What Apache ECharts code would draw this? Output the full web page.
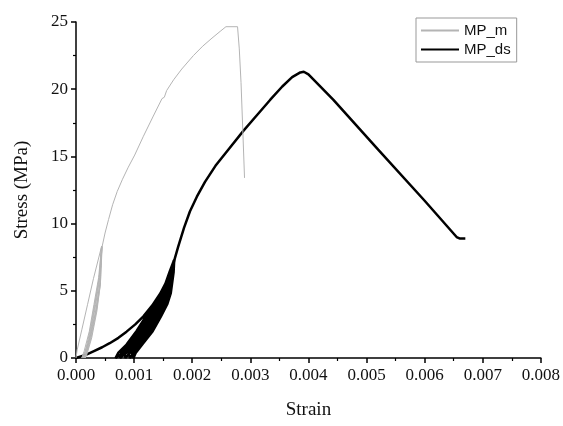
<!DOCTYPE html>
<html>
<head>
<meta charset="utf-8">
<script src="https://cdn.jsdelivr.net/npm/echarts@6/dist/echarts.min.js"></script>
<style>
  html, body { margin: 0; padding: 0; background: #fff; }
  #chart { width: 563px; height: 426px; }
</style>
</head>
<body>
<div id="chart"></div>
<script>
// tick labels
var strainTicks = ['0.000', '0.001', '0.002', '0.003', '0.004', '0.005', '0.006', '0.007', '0.008'];
var stressTicks = ['0', '5', '10', '15', '20', '25'];

// MP_m : [strain, stress]
var mpmFirstLoad = [[0, 0], [0.00002, 0.6], [0.00010, 2.1], [0.00020, 4.0], [0.00030, 5.9], [0.00044, 8.3]];
var mpmLoops = [
  [0.00041, 5.5], [0.00034, 3.5], [0.00024, 1.5], [0.00014, 0.3], [0.00010, 0],
  [0.00014, 0.5], [0.00023, 2], [0.00031, 4], [0.00039, 6], [0.00044, 8.3],
  [0.00041, 5.5], [0.00034, 3.5], [0.00025, 1.5], [0.00016, 0.3], [0.00012, 0],
  [0.00016, 0.5], [0.00024, 2], [0.00032, 4], [0.00040, 6], [0.00044, 8.3],
  [0.00042, 5.5], [0.00035, 3.5], [0.00026, 1.5], [0.00018, 0.3], [0.00014, 0],
  [0.00018, 0.5], [0.00025, 2], [0.00033, 4], [0.00040, 6], [0.00045, 8.3],
  [0.00042, 5.5], [0.00036, 3.5], [0.00027, 1.5], [0.00019, 0.3], [0.00016, 0],
  [0.00019, 0.5], [0.00026, 2], [0.00034, 4], [0.00041, 6], [0.00045, 8.3]
];
var mpmEnvelope = [
  [0.00050, 9.3], [0.00056, 10.3], [0.00063, 11.4], [0.00071, 12.4], [0.00080, 13.3],
  [0.00090, 14.2], [0.00101, 15.1], [0.00116, 16.5], [0.00133, 18.0], [0.00148, 19.3],
  [0.00152, 19.4], [0.00156, 19.9], [0.00168, 20.7], [0.00182, 21.5], [0.00202, 22.5],
  [0.00218, 23.2], [0.00234, 23.8], [0.00248, 24.3], [0.00258, 24.65], [0.00278, 24.65],
  [0.00281, 23.0], [0.00284, 20.5], [0.00287, 17.0], [0.00290, 13.4]
];

// MP_ds : [strain, stress]
var mpdsFirstLoad = [
  [0, 0], [0.00015, 0.2], [0.00030, 0.5], [0.00045, 0.8], [0.00058, 1.1],
  [0.00073, 1.5], [0.00087, 1.96], [0.00102, 2.5], [0.00116, 3.1], [0.00131, 3.9],
  [0.00145, 4.8], [0.00157, 5.8], [0.00166, 6.8], [0.00169, 7.3]
];
// unload / reload cycles
var mpdsLoops = [
  [0.00163, 6.4], [0.00152, 4.8], [0.00141, 4.0], [0.00127, 3.07], [0.00111, 2.0], [0.00094, 1.0], [0.00081, 0.4], [0.00068, 0],
  [0.00073, 0.4], [0.00087, 1.0], [0.00104, 2.0], [0.00120, 3.07], [0.00136, 4.0], [0.00148, 4.8], [0.00161, 6.4], [0.00168, 7.2],
  [0.00164, 6.4], [0.00155, 4.8], [0.00145, 4.0], [0.00132, 3.07], [0.00117, 2.0], [0.00099, 1.0], [0.00087, 0.4], [0.00076, 0],
  [0.00078, 0.4], [0.00091, 1.0], [0.00108, 2.0], [0.00124, 3.07], [0.00139, 4.0], [0.00150, 4.8], [0.00162, 6.4], [0.00168, 7.2],
  [0.00166, 6.4], [0.00158, 4.8], [0.00150, 4.0], [0.00137, 3.07], [0.00122, 2.0], [0.00105, 1.0], [0.00093, 0.4], [0.00085, 0],
  [0.00084, 0.4], [0.00096, 1.0], [0.00114, 2.0], [0.00129, 3.07], [0.00143, 4.0], [0.00153, 4.8], [0.00163, 6.4], [0.00168, 7.2],
  [0.00167, 6.4], [0.00161, 4.8], [0.00154, 4.0], [0.00142, 3.07], [0.00128, 2.0], [0.00110, 1.0], [0.00099, 0.4], [0.00093, 0],
  [0.00090, 0.4], [0.00102, 1.0], [0.00119, 2.0], [0.00134, 3.07], [0.00148, 4.0], [0.00156, 4.8], [0.00165, 6.4], [0.00169, 7.3],
  [0.00168, 6.4], [0.00163, 4.8], [0.00157, 4.0], [0.00146, 3.07], [0.00132, 2.0], [0.00114, 1.0], [0.00103, 0.4], [0.00099, 0],
  [0.00096, 0.4], [0.00107, 1.0], [0.00125, 2.0], [0.00140, 3.07], [0.00152, 4.0], [0.00159, 4.8], [0.00166, 6.4], [0.00170, 7.4]
];
var mpdsEnvelope = [
  [0.00176, 8.3], [0.00186, 9.7], [0.00196, 10.9], [0.00208, 12.0], [0.00222, 13.1],
  [0.00240, 14.3], [0.00262, 15.5], [0.00288, 16.9], [0.00312, 18.1], [0.00334, 19.2],
  [0.00355, 20.2], [0.00372, 20.9], [0.00386, 21.25], [0.00392, 21.3], [0.00400, 21.1],
  [0.00443, 19.2], [0.00520, 15.5], [0.00600, 11.7], [0.00655, 9.0], [0.00660, 8.9],
  [0.00670, 8.9]
];

var chart = echarts.init(document.getElementById('chart'), null, { renderer: 'canvas' });

var serif = 'Liberation Serif';

var option = {
  animation: false,
  backgroundColor: '#fff',
  grid: { left: 76, right: 22, top: 22, bottom: 68 },
  legend: {
    left: 416,
    top: 18,
    orient: 'vertical',
    borderColor: '#999',
    borderWidth: 1,
    padding: [5, 6, 5, 4],
    itemGap: 4,
    itemWidth: 38,
    itemHeight: 14,
    itemStyle: { opacity: 0 },
    textStyle: { fontFamily: 'Liberation Sans', fontSize: 15, color: '#111' },
    data: ['MP_m', 'MP_ds']
  },
  xAxis: {
    type: 'value',
    min: 0,
    max: 0.008,
    interval: 0.001,
    name: 'Strain',
    nameLocation: 'middle',
    nameGap: 43,
    nameTextStyle: { fontFamily: serif, fontSize: 19, color: '#111' },
    axisLine: { lineStyle: { color: '#000', width: 1.5 } },
    axisTick: { inside: false, length: 5, lineStyle: { color: '#000', width: 1.5 } },
    minorTick: { show: true, splitNumber: 2, length: 3, lineStyle: { color: '#000', width: 1.2 } },
    splitLine: { show: false },
    axisLabel: {
      margin: 9,
      fontFamily: serif, fontSize: 17, color: '#111',
      formatter: function (v) { return strainTicks[Math.round(v / 0.001)]; }
    }
  },
  yAxis: {
    type: 'value',
    min: 0,
    max: 25,
    interval: 5,
    name: 'Stress (MPa)',
    nameLocation: 'middle',
    nameGap: 44,
    nameTextStyle: { fontFamily: serif, fontSize: 19, color: '#111' },
    axisLine: { show: true, lineStyle: { color: '#000', width: 1.5 } },
    axisTick: { show: true, inside: false, length: 5, lineStyle: { color: '#000', width: 1.5 } },
    minorTick: { show: true, splitNumber: 2, length: 3, lineStyle: { color: '#000', width: 1.2 } },
    splitLine: { show: false },
    axisLabel: {
      margin: 8,
      fontFamily: serif, fontSize: 17, color: '#111',
      formatter: function (v) { return stressTicks[Math.round(v / 5)]; }
    }
  },
  series: [
    {
      name: 'MP_m',
      type: 'line',
      symbol: 'none',
      color: '#b4b4b4',
      lineStyle: { width: 1, color: '#b4b4b4' },
      data: mpmFirstLoad.concat(mpmLoops, mpmEnvelope),
      z: 3
    },
    {
      name: 'MP_ds',
      type: 'line',
      symbol: 'none',
      color: '#000',
      lineStyle: { width: 2.5, color: '#000' },
      data: mpdsFirstLoad.concat(mpdsLoops, mpdsEnvelope),
      z: 2
    }
  ]
};

chart.setOption(option);
</script>
</body>
</html>
